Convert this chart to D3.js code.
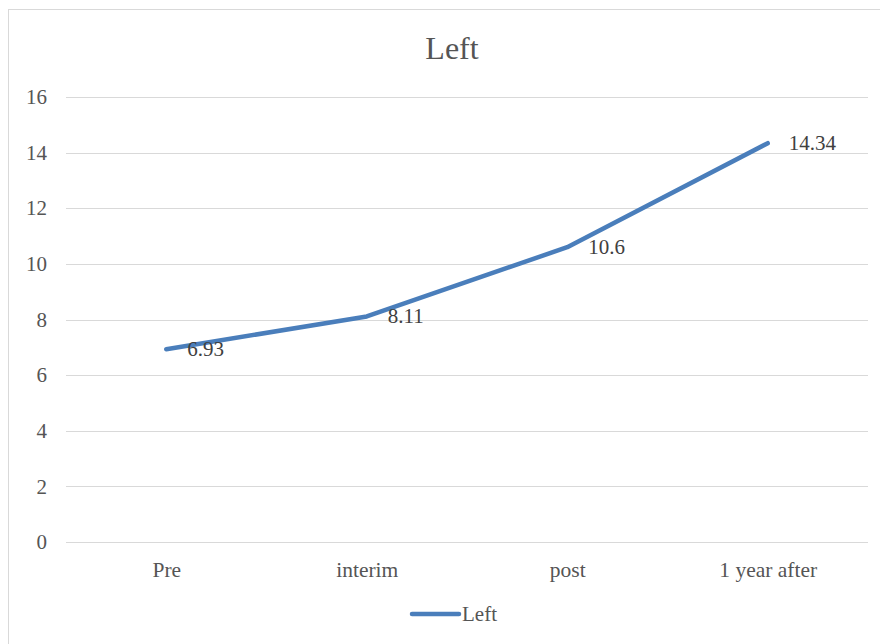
<!DOCTYPE html>
<html>
<head>
<meta charset="utf-8">
<script src="https://cdn.jsdelivr.net/npm/d3@7"></script>
<style>
  html, body { margin: 0; padding: 0; background: #fff; }
  svg { display: block; }
  text { font-family: "Liberation Serif", "DejaVu Serif", serif; }
</style>
</head>
<body>
<script>
// Chart data
const categories = ["Pre", "interim", "post", "1 year after"];
const seriesName = "Left";
const values = [6.93, 8.11, 10.6, 14.34];
const yTicks = [0, 2, 4, 6, 8, 10, 12, 14, 16];

const W = 880, H = 644;
const svg = d3.select("body").append("svg").attr("width", W).attr("height", H);

// outer chart frame
svg.append("rect")
  .attr("x", 8.5).attr("y", 9.5)
  .attr("width", 900).attr("height", 700)
  .attr("fill", "#fff").attr("stroke", "#d9d9d9").attr("stroke-width", 1);

const plot = { left: 66, right: 868, top: 97, bottom: 542 };

const x = d3.scalePoint().domain(categories)
  .range([plot.left, plot.right]).padding(0.5);
const y = d3.scaleLinear().domain([0, 16]).range([plot.bottom, plot.top]);

// gridlines
svg.append("g").selectAll("line").data(yTicks).join("line")
  .attr("x1", plot.left).attr("x2", plot.right)
  .attr("y1", d => Math.round(y(d)) + 0.5).attr("y2", d => Math.round(y(d)) + 0.5)
  .attr("stroke", "#d9d9d9").attr("stroke-width", 1);

// y axis labels
const yAxis = d3.axisLeft(y).tickValues(yTicks).tickSize(0).tickPadding(0);
const gy = svg.append("g").attr("transform", `translate(47,0)`).call(yAxis);
gy.select(".domain").remove();
gy.selectAll("text").attr("font-size", 21).attr("fill", "#555")
  .attr("font-family", "Liberation Serif, serif");

// x axis labels
const xAxis = d3.axisBottom(x).tickSize(0).tickPadding(0);
const gx = svg.append("g").attr("transform", `translate(0,562)`).call(xAxis);
gx.select(".domain").remove();
gx.selectAll("text").attr("font-size", 21.5).attr("fill", "#555")
  .attr("font-family", "Liberation Serif, serif");

// line
const color = "#4a7ebb";
const pts = categories.map((c, i) => ({ c, v: values[i] }));
svg.append("path").datum(pts)
  .attr("fill", "none").attr("stroke", color).attr("stroke-width", 4.5)
  .attr("stroke-linecap", "round").attr("stroke-linejoin", "round")
  .attr("d", d3.line().x(d => x(d.c)).y(d => y(d.v)));

// value labels
svg.append("g").selectAll("text").data(pts).join("text")
  .attr("x", d => x(d.c) + 21).attr("y", d => y(d.v) + 2)
  .attr("dominant-baseline", "middle")
  .attr("font-size", 21).attr("fill", "#404040")
  .text(d => d.v);

// title
svg.append("text").attr("x", 452).attr("y", 52)
  .attr("text-anchor", "middle").attr("dominant-baseline", "middle")
  .attr("font-size", 32).attr("fill", "#555").text(seriesName);

// legend
const lg = svg.append("g");
lg.append("line").attr("x1", 412).attr("x2", 459).attr("y1", 614).attr("y2", 614)
  .attr("stroke", color).attr("stroke-width", 4.5).attr("stroke-linecap", "round");
lg.append("text").attr("x", 462).attr("y", 616).attr("dominant-baseline", "middle")
  .attr("font-size", 21).attr("fill", "#555").text(seriesName);
</script>
</body>
</html>
